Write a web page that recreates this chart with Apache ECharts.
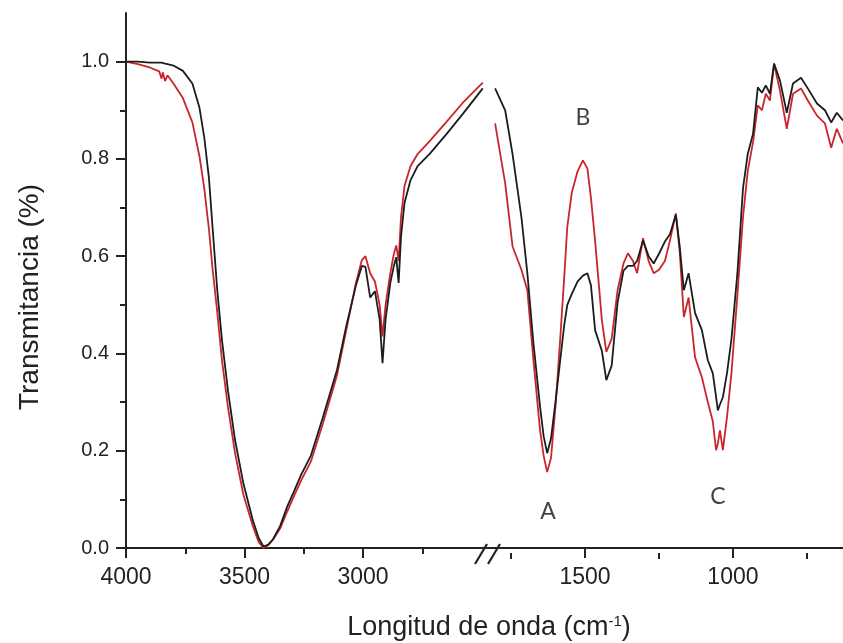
<!DOCTYPE html>
<html>
<head>
<meta charset="utf-8">
<script src="https://cdn.jsdelivr.net/npm/echarts@6/dist/echarts.min.js"></script>
<style>
html,body{margin:0;padding:0;background:#fff;}
#chart{width:843px;height:643px;}
</style>
</head>
<body>
<div id="chart"></div>
<script>
// ---- Left segment (4000 - 2500 cm-1) ----
const leftWn = [4000,3950,3900,3860,3850,3845,3835,3825,3800,3760,3720,3690,3670,3650,3635,3615,3595,3570,3540,3505,3465,3440,3420,3400,3380,3350,3320,3290,3260,3220,3170,3110,3070,3030,3005,2990,2970,2950,2930,2918,2905,2885,2870,2860,2850,2840,2825,2800,2770,2720,2650,2580,2495];
const leftBlack = [1.0,1.0,0.998,0.998,0.998,0.997,0.996,0.995,0.992,0.981,0.955,0.905,0.845,0.76,0.66,0.53,0.427,0.324,0.222,0.133,0.057,0.02,0.003,0.007,0.018,0.045,0.085,0.118,0.152,0.19,0.268,0.366,0.458,0.54,0.58,0.578,0.515,0.528,0.47,0.38,0.47,0.545,0.58,0.598,0.545,0.64,0.71,0.756,0.785,0.81,0.85,0.892,0.945];
const leftRed = [1.0,0.995,0.988,0.98,0.965,0.978,0.96,0.972,0.955,0.925,0.875,0.805,0.74,0.655,0.575,0.485,0.385,0.29,0.195,0.11,0.045,0.012,0.0,0.006,0.017,0.04,0.075,0.108,0.14,0.178,0.255,0.355,0.45,0.545,0.592,0.6,0.565,0.548,0.5,0.435,0.5,0.565,0.605,0.622,0.59,0.68,0.745,0.785,0.81,0.836,0.875,0.915,0.957];

// ---- Right segment (1800 - 630 cm-1) ----
const rightWn = [1804,1770,1745,1715,1695,1675,1652,1640,1628,1615,1600,1585,1570,1560,1545,1525,1507,1492,1480,1466,1443,1428,1410,1390,1370,1355,1338,1324,1304,1285,1268,1250,1230,1213,1193,1180,1166,1150,1128,1105,1085,1068,1057,1051,1044,1034,1020,1005,985,966,950,932,916,902,889,875,861,841,818,797,770,747,716,689,668,649,628];
const rightBlack = [0.945,0.9,0.81,0.68,0.565,0.425,0.29,0.23,0.195,0.225,0.3,0.38,0.46,0.5,0.522,0.548,0.56,0.565,0.54,0.448,0.405,0.345,0.375,0.505,0.57,0.58,0.58,0.59,0.632,0.6,0.585,0.605,0.63,0.645,0.685,0.62,0.53,0.565,0.483,0.448,0.386,0.359,0.31,0.283,0.295,0.31,0.36,0.43,0.565,0.74,0.81,0.852,0.947,0.936,0.951,0.934,0.996,0.961,0.895,0.955,0.967,0.945,0.914,0.9,0.875,0.895,0.879];
const rightRed = [0.873,0.75,0.62,0.572,0.53,0.39,0.242,0.19,0.156,0.185,0.29,0.42,0.56,0.66,0.73,0.775,0.797,0.78,0.72,0.632,0.468,0.403,0.43,0.53,0.585,0.606,0.59,0.565,0.637,0.59,0.565,0.572,0.59,0.632,0.688,0.61,0.475,0.515,0.392,0.351,0.3,0.26,0.201,0.215,0.242,0.201,0.27,0.36,0.52,0.68,0.775,0.835,0.91,0.9,0.934,0.92,0.996,0.94,0.862,0.934,0.945,0.92,0.889,0.873,0.823,0.862,0.832];

// ---- Ticks ----
const yMajorTicks = [0, 0.2, 0.4, 0.6, 0.8, 1.0];
const yMinorTicks = [0.1, 0.3, 0.5, 0.7, 0.9];
const xLeftMajor = [4000, 3500, 3000];
const xLeftMinor = [3750, 3250, 2750];
const xRightMajor = [1500, 1000];
const xRightMinor = [1750, 1250, 750];

// ---- Annotations ----
const annoLabels = ['A', 'B', 'C'];
const annoWn = [1625, 1507, 1051];
const annoT = [0.074, 0.885, 0.105];

const zip = (a, b) => a.map((v, i) => [v, b[i]]);

const AX = '#222';
const BLACK = '#1c1c1c';
const RED = '#c9262c';
const FONT = 'Liberation Sans, Arial, sans-serif';

const chart = echarts.init(document.getElementById('chart'), null, {renderer: 'canvas'});

const yMin = -0.0103, yMax = 1.1;
const gridTop = 13, gridH = 540;
const leftX = 126, breakX = 488;

function xMajor(grid, min, max, vals) {
  return {
    gridIndex: grid, type: 'value', min: min, max: max, inverse: true,
    splitLine: {show: false},
    axisLine: {show: true, lineStyle: {color: AX, width: 2}},
    axisTick: {show: true, customValues: vals, length: 10, lineStyle: {color: AX, width: 2}},
    axisLabel: {show: true, customValues: vals, fontSize: 23, fontFamily: FONT, color: '#222', margin: 13,
      formatter: v => String(v)}
  };
}
function xMinor(grid, min, max, vals) {
  return {
    gridIndex: grid, type: 'value', min: min, max: max, inverse: true, position: 'bottom',
    splitLine: {show: false},
    axisLine: {show: false},
    axisTick: {show: true, customValues: vals, length: 6, lineStyle: {color: AX, width: 2}},
    axisLabel: {show: false}
  };
}

const option = {
  animation: false,
  backgroundColor: '#fff',
  grid: [
    {left: leftX, top: gridTop, width: breakX - leftX, height: gridH, containLabel: false},
    {left: breakX, top: gridTop, width: 843 - breakX, height: gridH, containLabel: false}
  ],
  xAxis: [
    xMajor(0, 2473, 4000, xLeftMajor),
    xMinor(0, 2473, 4000, xLeftMinor),
    xMajor(1, 628, 1828, xRightMajor),
    xMinor(1, 628, 1828, xRightMinor)
  ],
  yAxis: [
    {
      gridIndex: 0, type: 'value', min: yMin, max: yMax, position: 'left',
      splitLine: {show: false},
      axisLine: {show: true, lineStyle: {color: AX, width: 2}},
      axisTick: {show: true, customValues: yMajorTicks, length: 10, lineStyle: {color: AX, width: 2}},
      axisLabel: {show: true, customValues: yMajorTicks, fontSize: 20, fontFamily: FONT, color: '#222', margin: 17,
        formatter: v => v.toFixed(1)}
    },
    {
      gridIndex: 0, type: 'value', min: yMin, max: yMax, position: 'left',
      splitLine: {show: false},
      axisLine: {show: false},
      axisTick: {show: true, customValues: yMinorTicks, length: 6, lineStyle: {color: AX, width: 2}},
      axisLabel: {show: false}
    },
    {gridIndex: 1, type: 'value', min: yMin, max: yMax, show: false}
  ],
  series: [
    {type: 'line', xAxisIndex: 0, yAxisIndex: 0, data: zip(leftWn, leftBlack), showSymbol: false, symbol: 'none',
      lineStyle: {color: BLACK, width: 1.8}, z: 3},
    {type: 'line', xAxisIndex: 0, yAxisIndex: 0, data: zip(leftWn, leftRed), showSymbol: false, symbol: 'none',
      lineStyle: {color: RED, width: 1.8}, z: 2},
    {type: 'line', xAxisIndex: 2, yAxisIndex: 2, data: zip(rightWn, rightBlack), showSymbol: false, symbol: 'none',
      lineStyle: {color: BLACK, width: 1.8}, z: 3},
    {type: 'line', xAxisIndex: 2, yAxisIndex: 2, data: zip(rightWn, rightRed), showSymbol: false, symbol: 'none',
      lineStyle: {color: RED, width: 1.8}, z: 2},
    {type: 'scatter', xAxisIndex: 2, yAxisIndex: 2, symbolSize: 1,
      itemStyle: {color: 'transparent'},
      data: annoLabels.map((l, i) => [annoWn[i], annoT[i], l]),
      label: {show: true, position: 'inside', formatter: p => p.value[2],
        fontSize: 23, fontFamily: 'Lato, "Open Sans", sans-serif', color: '#111'}, z: 5}
  ],
  graphic: [
    {type: 'line', shape: {x1: 475, y1: 564, x2: 487, y2: 544}, style: {stroke: AX, lineWidth: 2.2}, z: 10},
    {type: 'line', shape: {x1: 488, y1: 564, x2: 500, y2: 544}, style: {stroke: AX, lineWidth: 2.2}, z: 10},
    {type: 'text', x: 489, y: 628, z: 10,
      style: {
        text: 'Longitud de onda (cm{sup|-1})',
        font: '27px ' + FONT, fill: '#222', align: 'center', verticalAlign: 'middle',
        rich: {sup: {fontSize: 15, fontFamily: FONT, fill: '#222', verticalAlign: 'top', padding: [0, 0, 12, 0]}}
      }
    },
    {type: 'text', x: 30, y: 297, rotation: Math.PI / 2, z: 10,
      style: {text: 'Transmitancia (%)', font: '28px ' + FONT, fill: '#222', align: 'center', verticalAlign: 'middle'}
    }
  ]
};
chart.setOption(option);
</script>
</body>
</html>
